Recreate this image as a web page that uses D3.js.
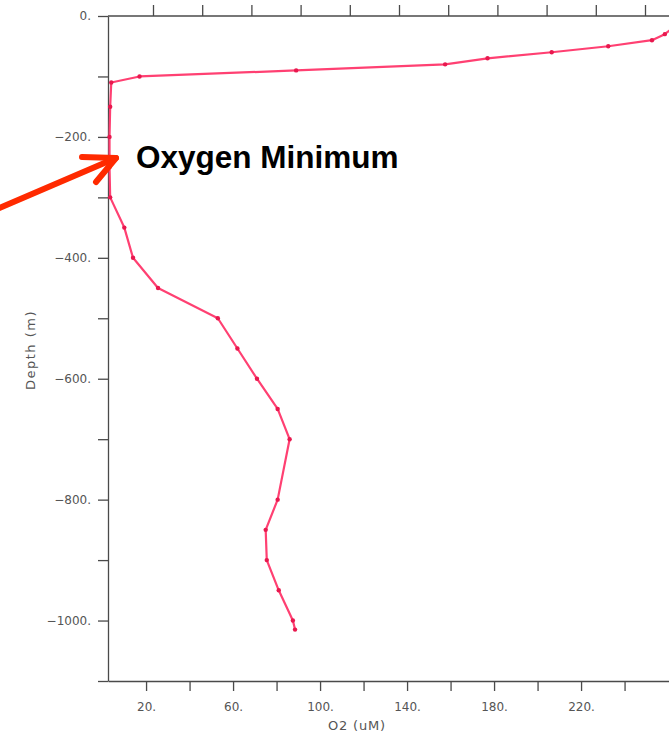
<!DOCTYPE html>
<html>
<head>
<meta charset="utf-8">
<script src="https://cdn.jsdelivr.net/npm/d3@7"></script>
<style>
  body { margin: 0; background: #fff; }
  svg { display: block; }
  .axis path, .axis line { stroke: #4a4a4a; stroke-width: 1.3; }
  .axis text { font-family: "DejaVu Sans", sans-serif; font-size: 12px; fill: #555; }
</style>
</head>
<body>
<div id="chart"></div>
<script>
// O2 profile, depth in metres (negative down), O2 in uM
const depths = [-20, -30, -40, -50, -60, -70, -80, -90, -100, -110,
  -150, -200, -250, -300, -350, -400, -450, -500, -550, -600,
  -650, -700, -800, -850, -900, -950, -1000, -1015];
const o2 = [262, 258.5, 252.6, 232.5, 206.5, 177, 157.5, 89, 17, 4,
  3.5, 3.2, 3.2, 3.5, 10, 14, 25.5, 53, 62, 71,
  80.5, 86, 80.5, 75, 75.5, 81, 87.5, 88.5];

// axis ticks
const depthTicks = d3.range(0, -1101, -100);
const depthLabels = [0, -200, -400, -600, -800, -1000];
const o2Ticks = [20, 40, 60, 80, 100, 120, 140, 160, 180, 200, 220, 240];
const o2Labels = [20, 60, 100, 140, 180, 220];
const topTicks = [20, 40, 60, 80, 100, 120, 140, 160, 180, 200, 220];

const W = 669, H = 734;
const margin = { top: 16, left: 108 };
const plotBottom = 681;

const svg = d3.select('#chart').append('svg')
  .attr('width', W)
  .attr('height', H);

const x = d3.scaleLinear().domain([2.5, 270]).range([margin.left, margin.left + 267.5 * 2.175]);
const y = d3.scaleLinear().domain([-1100, 0]).range([plotBottom, margin.top]);
// the top axis ticks in the picture are spaced a bit wider than the bottom ones
const xTop = d3.scaleLinear().domain([20, 220]).range([153, 645]);

const fmt = d => (d < 0 ? '\u2212' : '') + Math.abs(d) + '.';

// left axis
svg.append('g')
  .attr('class', 'axis')
  .attr('transform', `translate(${margin.left},0)`)
  .call(d3.axisLeft(y).tickValues(depthTicks).tickSizeInner(10).tickSizeOuter(0).tickPadding(7)
    .tickFormat(d => depthLabels.includes(d) ? fmt(d) : ''));

// bottom axis
svg.append('g')
  .attr('class', 'axis')
  .attr('transform', `translate(0,${plotBottom})`)
  .call(d3.axisBottom(x).tickValues(o2Ticks).tickSizeInner(10).tickSizeOuter(0).tickPadding(11)
    .tickFormat(d => o2Labels.includes(d) ? fmt(d) : ''));

// top axis (ticks only)
const topG = svg.append('g')
  .attr('class', 'axis')
  .attr('transform', `translate(0,${margin.top})`)
  .call(d3.axisTop(xTop).tickValues(topTicks).tickSizeInner(11).tickSizeOuter(0).tickFormat(''));
topG.select('.domain').attr('d', `M${margin.left},0H${W}`);

// axis titles
svg.append('text')
  .attr('x', 357).attr('y', 730)
  .attr('text-anchor', 'middle')
  .style('font-family', '"DejaVu Sans", sans-serif')
  .style('font-size', '13px')
  .style('letter-spacing', '0.8px')
  .style('fill', '#555')
  .text('O2 (uM)');

svg.append('text')
  .attr('transform', 'translate(35,350) rotate(-90)')
  .attr('text-anchor', 'middle')
  .style('font-family', '"DejaVu Sans", sans-serif')
  .style('font-size', '13px')
  .style('letter-spacing', '1.5px')
  .style('fill', '#555')
  .text('Depth (m)');

// profile
const pts = depths.map((d, i) => ({ depth: d, o2: o2[i] }));

const line = d3.line()
  .x(d => x(d.o2))
  .y(d => y(d.depth));

svg.append('path')
  .datum(pts)
  .attr('fill', 'none')
  .attr('stroke', '#ff4072')
  .attr('stroke-width', 2.2)
  .attr('stroke-linejoin', 'round')
  .attr('d', line);

svg.selectAll('circle.pt')
  .data(pts)
  .enter()
  .append('circle')
  .attr('class', 'pt')
  .attr('cx', d => x(d.o2))
  .attr('cy', d => y(d.depth))
  .attr('r', 2.2)
  .attr('fill', '#e8184e');

// annotation
svg.append('text')
  .attr('x', 136).attr('y', 168)
  .style('font-family', 'Arial, "Liberation Sans", sans-serif')
  .style('font-weight', 'bold')
  .style('font-size', '31.5px')
  .style('fill', '#000')
  .text('Oxygen Minimum');

const arrow = svg.append('g')
  .attr('fill', 'none')
  .attr('stroke', '#ff2a00')
  .attr('stroke-width', 6)
  .attr('stroke-linecap', 'round')
  .attr('stroke-linejoin', 'round');
arrow.append('line').attr('x1', -5).attr('y1', 210).attr('x2', 116).attr('y2', 158);
arrow.append('polyline').attr('points', '82,157 116,158 96,182');
</script>
</body>
</html>
